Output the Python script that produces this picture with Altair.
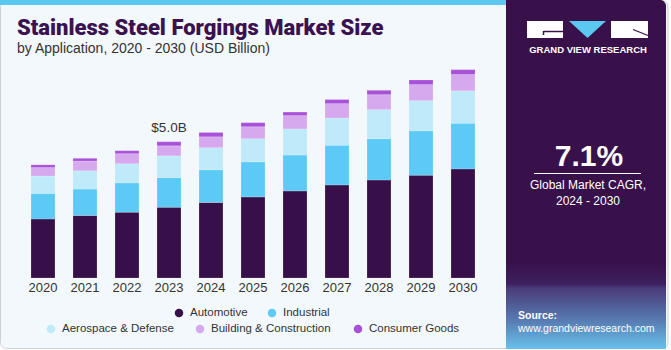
import altair as alt
import pandas as pd

# ---------------- data ----------------
years = [str(y) for y in range(2020, 2031)]
segments = ["Automotive", "Industrial", "Aerospace & Defense",
            "Building & Construction", "Consumer Goods"]
colors = ["#37104A", "#5DCAF5", "#BEEAF9", "#D6A9EE", "#A851D9"]

automotive = [2.17, 2.30, 2.42, 2.60, 2.78, 2.98, 3.20, 3.42, 3.60, 3.78, 4.01]
industrial = [0.94, 0.97, 1.08, 1.09, 1.20, 1.29, 1.32, 1.46, 1.52, 1.63, 1.68]
aerospace = [0.64, 0.67, 0.70, 0.80, 0.81, 0.85, 0.96, 1.00, 1.07, 1.11, 1.19]
building = [0.31, 0.36, 0.37, 0.37, 0.40, 0.44, 0.49, 0.53, 0.55, 0.59, 0.60]
consumer = [0.10, 0.10, 0.11, 0.15, 0.16, 0.15, 0.13, 0.15, 0.16, 0.17, 0.18]

label_year = "2023"
label_text = "$5.0B"

title_text = "Stainless Steel Forgings Market Size"
subtitle_text = "by Application, 2020 - 2030 (USD Billion)"
cagr_text = "7.1%"
cagr_lines = ["Global Market CAGR,", "2024 - 2030"]
brand_text = "GRAND VIEW RESEARCH"
source_lines = ["Source:", "www.grandviewresearch.com"]

series = [automotive, industrial, aerospace, building, consumer]
rows = []
for i, yr in enumerate(years):
    for k, (seg, vals) in enumerate(zip(segments, series)):
        rows.append({"year": yr, "segment": seg, "value": vals[i], "ord": k})
df = pd.DataFrame(rows)
totals = df.groupby("year", as_index=False)["value"].sum()

# legend layout (positions are layout, not data)
legend_df = pd.DataFrame({
    "segment": segments,
    "cx": [179, 272, 51, 200, 358],
    "cy": [313, 313, 329, 329, 329],
})
legend_df["tx"] = legend_df["cx"] + 11

# ---------------- scales ----------------
xscale = alt.Scale(domain=years, range=[22, 484], paddingInner=0.4286, paddingOuter=0.2143)
yscale = alt.Scale(domain=[0, 10.22], range=[278, 0], nice=False, zero=True)
cscale = alt.Scale(domain=segments, range=colors)

one = pd.DataFrame({"k": [0]})
FONT = "Liberation Sans"
TXT = "#333333"


def rect(x, x2, y, y2, **kw):
    return alt.Chart(one).mark_rect(**kw).encode(
        x=alt.value(x), x2=alt.value(x2), y=alt.value(y), y2=alt.value(y2))


def text(x, y, s, **kw):
    return alt.Chart(one).mark_text(**kw).encode(
        x=alt.value(x), y=alt.value(y), text=alt.value(s))


def rule(x, x2, y, y2, **kw):
    return alt.Chart(one).mark_rule(**kw).encode(
        x=alt.value(x), x2=alt.value(x2), y=alt.value(y), y2=alt.value(y2))


layers = []
# card background
layers.append(rect(0.5, 668, 0.5, 348.5, fill="#F3F8FC", stroke="#CDD2D6",
                   strokeWidth=1, cornerRadius=6))
# top blue strip
layers.append(rect(0, 506, 0, 5, fill="#5BC8F0"))

# right panel
layers.append(rect(506, 666, 0, 349, fill="#38114B", cornerRadiusTopRight=6))
layers.append(rect(506, 666, 262, 349, fill=alt.Gradient(
    gradient="linear", x1=0, x2=0, y1=0, y2=1,
    stops=[alt.GradientStop(color="#38114B", offset=0),
           alt.GradientStop(color="#3E1F5F", offset=0.25),
           alt.GradientStop(color="#4A3B79", offset=0.30),
           alt.GradientStop(color="#5677AE", offset=0.65),
           alt.GradientStop(color="#69C2EC", offset=1)])))

# logo
layers.append(rect(527, 563, 21, 38, fill="#FFFFFF"))
layers.append(rule(543.5, 563, 31.5, 31.5, color="#38114B", strokeWidth=1.5))
layers.append(rule(543.5, 543.5, 31, 35, color="#38114B", strokeWidth=1.5))
layers.append(rect(611, 648, 21, 38, fill="#FFFFFF"))
layers.append(rule(633, 648, 29.5, 35.5, color="#38114B", strokeWidth=1.2))
layers.append(alt.Chart(one).mark_point(
    shape="M-1,-0.46L1,-0.46L0,0.46Z", filled=True, fill="#5BC8F0",
    opacity=1, strokeWidth=0, size=1369).encode(
    x=alt.value(587.5), y=alt.value(29.5)))
layers.append(text(588, 52.5, brand_text, font=FONT, fontSize=9.5, fontWeight="bold",
                   color="#FFFFFF", align="center", baseline="alphabetic"))

# CAGR
layers.append(text(589, 166, cagr_text, font=FONT, fontSize=30, fontWeight="bold",
                   color="#FFFFFF", align="center", baseline="alphabetic"))
layers.append(rule(534, 641, 173.5, 173.5, color="#FFFFFF", strokeWidth=1.2))
layers.append(text(588, 189, cagr_lines[0], font=FONT, fontSize=12,
                   color="#FFFFFF", align="center", baseline="alphabetic"))
layers.append(text(588, 204.5, cagr_lines[1], font=FONT, fontSize=12,
                   color="#FFFFFF", align="center", baseline="alphabetic"))

# source
layers.append(text(518, 318.5, source_lines[0], font=FONT, fontSize=10.5,
                   fontWeight="bold", color="#FFFFFF", align="left",
                   baseline="alphabetic"))
layers.append(text(518, 332, source_lines[1], font=FONT, fontSize=10.5,
                   color="#FFFFFF", align="left", baseline="alphabetic"))

# titles
layers.append(text(17, 35, title_text, font="Roboto", fontSize=22, fontWeight=900,
                   color="#3A1250", align="left", baseline="alphabetic"))
layers.append(text(17, 53, subtitle_text, font=FONT, fontSize=14,
                   color=TXT, align="left", baseline="alphabetic"))

# bars
layers.append(alt.Chart(df).mark_bar(stroke="#FFFFFF", strokeWidth=0.5,
                                     strokeOpacity=0.35).encode(
    x=alt.X("year:N", scale=xscale, axis=None),
    y=alt.Y("value:Q", stack="zero", scale=yscale, axis=None),
    color=alt.Color("segment:N", scale=cscale, legend=None),
    order=alt.Order("ord:Q", sort="ascending"),
))

# year labels
layers.append(alt.Chart(pd.DataFrame({"year": years})).mark_text(
    font=FONT, fontSize=13, color=TXT, baseline="alphabetic").encode(
    x=alt.X("year:N", scale=xscale, axis=None),
    y=alt.value(292),
    text="year:N"))

# total label
layers.append(alt.Chart(totals).transform_filter(
    alt.datum.year == label_year).mark_text(
    font=FONT, fontSize=13.5, color=TXT, baseline="alphabetic", dy=-10).encode(
    x=alt.X("year:N", scale=xscale, axis=None),
    y=alt.Y("value:Q", scale=yscale, axis=None),
    text=alt.value(label_text)))

# legend
layers.append(alt.Chart(legend_df).mark_circle(size=72, opacity=1).encode(
    x=alt.X("cx:Q", scale=None, axis=None),
    y=alt.Y("cy:Q", scale=None, axis=None),
    color=alt.Color("segment:N", scale=cscale, legend=None)))
layers.append(alt.Chart(legend_df).mark_text(
    font=FONT, fontSize=11.5, color=TXT, align="left", baseline="middle").encode(
    x=alt.X("tx:Q", scale=None, axis=None),
    y=alt.Y("cy:Q", scale=None, axis=None),
    text="segment:N"))

chart = alt.layer(*layers).properties(
    width=671, height=350,
    autosize=alt.AutoSizeParams(type="none"),
    padding=0,
    background="#FFFFFF",
).resolve_scale(
    x="independent", y="independent", color="independent"
).configure_view(stroke=None)

chart.save("out.html", embed_options={"renderer": "svg", "actions": False})
